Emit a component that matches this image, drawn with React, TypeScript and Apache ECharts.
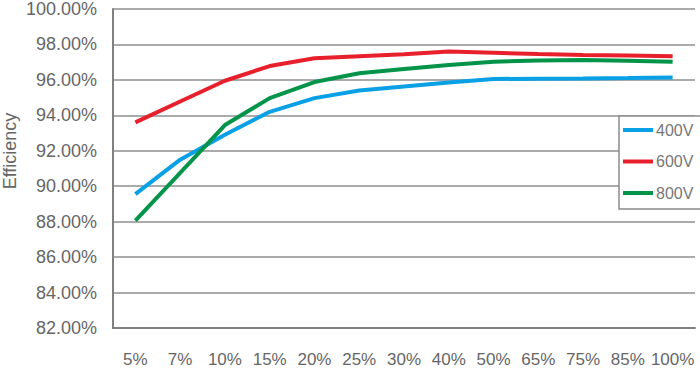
import React, { useEffect, useRef } from "react";
import * as echarts from "echarts";

const categories = ["5%", "7%", "10%", "15%", "20%", "25%", "30%", "40%", "50%", "65%", "75%", "85%", "100%"];
const v400 = [89.55, 91.5, 92.9, 94.2, 94.97, 95.4, 95.63, 95.85, 96.05, 96.07, 96.08, 96.1, 96.13];
const v600 = [93.6, 94.78, 95.95, 96.78, 97.22, 97.33, 97.44, 97.6, 97.53, 97.46, 97.41, 97.37, 97.33];
const v800 = [88.06, 90.75, 93.45, 94.97, 95.88, 96.37, 96.62, 96.84, 97.03, 97.1, 97.12, 97.08, 97.03];
const yTicks = { min: 82, max: 100, interval: 2 };
const yTitle = "Efficiency";

const BLUE = "#0aa0e6";
const RED = "#e8202c";
const GREEN = "#03944a";

export default function App() {
  const ref = useRef<HTMLDivElement>(null);
  useEffect(() => {
    if (!ref.current) return;
    document.body.style.margin = "0";
    document.body.style.overflow = "hidden";
    const chart = echarts.init(ref.current, undefined, { renderer: "svg" });
    const font = "Arial, 'Liberation Sans', Helvetica, sans-serif";
    const mk = (name: string, data: number[], color: string) => ({
      name,
      type: "line",
      data,
      symbol: "none",
      lineStyle: { color, width: 4 },
      itemStyle: { color },
    });
    chart.setOption({
      animation: false,
      backgroundColor: "#ffffff",
      grid: { left: 113, right: 5, top: 9, bottom: 41, containLabel: false, outerBoundsMode: "none" },
      graphic: [
        {
          type: "text",
          x: 10,
          y: 151,
          rotation: Math.PI / 2,
          style: {
            text: yTitle,
            fill: "#666666",
            fontSize: 18,
            fontFamily: font,
            align: "center",
            verticalAlign: "middle",
          },
        },
      ],
      legend: {
        orient: "vertical",
        left: 619,
        top: 116,
        width: 80,
        itemWidth: 30,
        itemHeight: 4,
        itemGap: 15.5,
        icon: "rect",
        padding: [6, 10, 8, 4],
        borderColor: "#8c8c8c",
        borderWidth: 1.5,
        backgroundColor: "#ffffff",
        textStyle: { color: "#777777", fontSize: 16, fontFamily: font, padding: [0, 0, 0, -2] },
        data: ["400V", "600V", "800V"],
      },
      xAxis: {
        type: "category",
        data: categories,
        boundaryGap: true,
        axisLine: { lineStyle: { color: "#808080", width: 2 } },
        axisTick: { inside: true, length: 5, lineStyle: { color: "#808080", width: 2 } },
        axisLabel: { color: "#666666", fontSize: 17, fontFamily: font, margin: 23, interval: 0 },
        splitLine: { show: false },
      },
      yAxis: {
        type: "value",
        min: yTicks.min,
        max: yTicks.max,
        interval: yTicks.interval,
        axisLine: { show: true, lineStyle: { color: "#808080", width: 2 } },
        axisTick: { show: false },
        axisLabel: {
          color: "#666666",
          fontSize: 18,
          fontFamily: font,
          margin: 16,
          formatter: (v: number) => v.toFixed(2) + "%",
        },
        splitLine: { show: true, lineStyle: { color: "#8f8f8f", width: 1.5 } },
      },
      series: [mk("400V", v400, BLUE), mk("600V", v600, RED), mk("800V", v800, GREEN)],
    });
    return () => chart.dispose();
  }, []);
  return <div ref={ref} style={{ width: 700, height: 369 }} />;
}
